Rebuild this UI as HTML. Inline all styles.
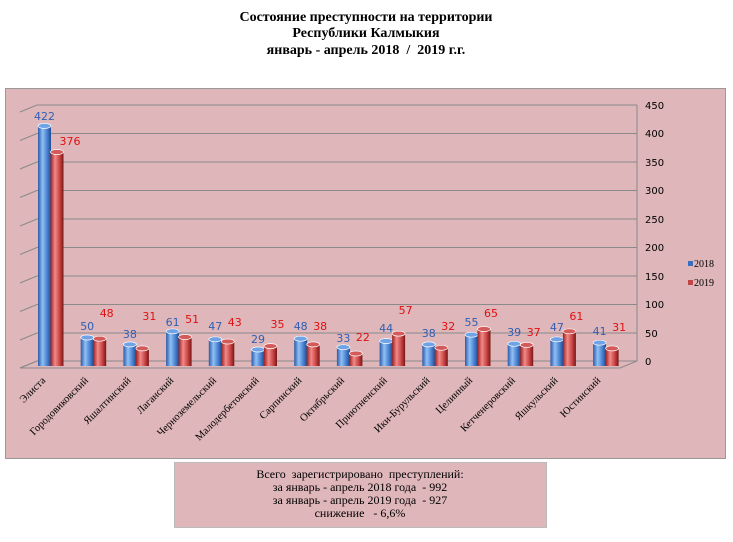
<!DOCTYPE html>
<html><head><meta charset="utf-8"><style>
body{margin:0;background:#fff;width:733px;height:537px;overflow:hidden}
text{white-space:pre}
</style></head><body>
<svg width="733" height="537" xmlns="http://www.w3.org/2000/svg" font-family="'Liberation Serif',serif">
<defs>
<linearGradient id="b" x1="0" x2="1"><stop offset="0" stop-color="#2a5aa8"/><stop offset=".35" stop-color="#8fc0f5"/><stop offset=".7" stop-color="#4a82d0"/><stop offset="1" stop-color="#1f4a90"/></linearGradient>
<linearGradient id="r" x1="0" x2="1"><stop offset="0" stop-color="#9a2020"/><stop offset=".35" stop-color="#f28a88"/><stop offset=".7" stop-color="#c84545"/><stop offset="1" stop-color="#7a1515"/></linearGradient>
</defs>
<g font-weight="bold" font-size="14" text-anchor="middle" fill="#000">
<text x="366" y="21">Состояние преступности на территории</text>
<text x="366" y="37">Республики Калмыкия</text>
<text x="366" y="54">январь - апрель 2018  /  2019 г.г.</text>
</g>
<rect x="5.5" y="88.5" width="720" height="370" fill="#dfb6b9" stroke="#999"/>
<g stroke="#8a8a8a" stroke-width="1" fill="none">
<path d="M37 105H637M37 133.5H637M37 162H637M37 190.5H637M37 219H637M37 247.5H637M37 276H637M37 304.5H637M37 333H637M37 361H637"/>
<path d="M637 105V361L620 368H20L37 361"/>
<path d="M20 112L37 105M20 140.5L37 133.5M20 169L37 162M20 197.5L37 190.5M20 226L37 219M20 254.5L37 247.5M20 283L37 276M20 311.5L37 304.5M20 340L37 333M20 368L37 361"/>
</g>
<g font-family="'DejaVu Sans',sans-serif" font-size="10" fill="#000">
<text x="645" y="109">450</text><text x="645" y="137">400</text><text x="645" y="166">350</text><text x="645" y="194">300</text><text x="645" y="223">250</text><text x="645" y="251">200</text><text x="645" y="280">150</text><text x="645" y="308">100</text><text x="645" y="337">50</text><text x="645" y="365">0</text>
</g>
<rect x="688" y="261" width="5" height="5" fill="#3a6fc0"/><text x="694" y="267" font-size="10">2018</text>
<rect x="688" y="280" width="5" height="5" fill="#c04545"/><text x="694" y="286" font-size="10">2019</text>

<g fill="url(#b)">
<rect x="38" y="125.9" width="13" height="240.1"/>
<rect x="80.7" y="337.5" width="13" height="28.5"/>
<rect x="123.4" y="344.4" width="13" height="21.6"/>
<rect x="166.1" y="331.3" width="13" height="34.7"/>
<rect x="208.8" y="339.3" width="13" height="26.7"/>
<rect x="251.5" y="349.5" width="13" height="16.5"/>
<rect x="294.2" y="338.7" width="13" height="27.3"/>
<rect x="336.9" y="347.2" width="13" height="18.8"/>
<rect x="379.6" y="341" width="13" height="25"/>
<rect x="422.3" y="344.4" width="13" height="21.6"/>
<rect x="465" y="334.7" width="13" height="31.3"/>
<rect x="507.7" y="343.8" width="13" height="22.2"/>
<rect x="550.4" y="339.3" width="13" height="26.7"/>
<rect x="593.1" y="342.7" width="13" height="23.3"/>
</g>
<g fill="#6fa3e6" stroke="#fff" stroke-width=".7">
<ellipse cx="44.5" cy="125.9" rx="6.5" ry="2.5"/>
<ellipse cx="87.2" cy="337.5" rx="6.5" ry="2.5"/>
<ellipse cx="129.9" cy="344.4" rx="6.5" ry="2.5"/>
<ellipse cx="172.6" cy="331.3" rx="6.5" ry="2.5"/>
<ellipse cx="215.3" cy="339.3" rx="6.5" ry="2.5"/>
<ellipse cx="258" cy="349.5" rx="6.5" ry="2.5"/>
<ellipse cx="300.7" cy="338.7" rx="6.5" ry="2.5"/>
<ellipse cx="343.4" cy="347.2" rx="6.5" ry="2.5"/>
<ellipse cx="386.1" cy="341" rx="6.5" ry="2.5"/>
<ellipse cx="428.8" cy="344.4" rx="6.5" ry="2.5"/>
<ellipse cx="471.5" cy="334.7" rx="6.5" ry="2.5"/>
<ellipse cx="514.2" cy="343.8" rx="6.5" ry="2.5"/>
<ellipse cx="556.9" cy="339.3" rx="6.5" ry="2.5"/>
<ellipse cx="599.6" cy="342.7" rx="6.5" ry="2.5"/>
</g>
<g fill="url(#r)">
<rect x="50.5" y="152" width="13" height="214"/>
<rect x="93.2" y="338.7" width="13" height="27.3"/>
<rect x="135.9" y="348.4" width="13" height="17.6"/>
<rect x="178.6" y="337" width="13" height="29"/>
<rect x="221.3" y="341.5" width="13" height="24.5"/>
<rect x="264" y="346.1" width="13" height="19.9"/>
<rect x="306.7" y="344.4" width="13" height="21.6"/>
<rect x="349.4" y="353.5" width="13" height="12.5"/>
<rect x="392.1" y="333.6" width="13" height="32.4"/>
<rect x="434.8" y="347.8" width="13" height="18.2"/>
<rect x="477.5" y="329" width="13" height="37"/>
<rect x="520.2" y="344.9" width="13" height="21.1"/>
<rect x="562.9" y="331.3" width="13" height="34.7"/>
<rect x="605.6" y="348.4" width="13" height="17.6"/>
</g>
<g fill="#d45a5a" stroke="#fff" stroke-width=".7">
<ellipse cx="57" cy="152" rx="6.5" ry="2.5"/>
<ellipse cx="99.7" cy="338.7" rx="6.5" ry="2.5"/>
<ellipse cx="142.4" cy="348.4" rx="6.5" ry="2.5"/>
<ellipse cx="185.1" cy="337" rx="6.5" ry="2.5"/>
<ellipse cx="227.8" cy="341.5" rx="6.5" ry="2.5"/>
<ellipse cx="270.5" cy="346.1" rx="6.5" ry="2.5"/>
<ellipse cx="313.2" cy="344.4" rx="6.5" ry="2.5"/>
<ellipse cx="355.9" cy="353.5" rx="6.5" ry="2.5"/>
<ellipse cx="398.6" cy="333.6" rx="6.5" ry="2.5"/>
<ellipse cx="441.3" cy="347.8" rx="6.5" ry="2.5"/>
<ellipse cx="484" cy="329" rx="6.5" ry="2.5"/>
<ellipse cx="526.7" cy="344.9" rx="6.5" ry="2.5"/>
<ellipse cx="569.4" cy="331.3" rx="6.5" ry="2.5"/>
<ellipse cx="612.1" cy="348.4" rx="6.5" ry="2.5"/>
</g>

<g font-family="'DejaVu Sans',sans-serif" font-size="11" text-anchor="middle" fill="#2f5fb5">
<text x="44.5" y="120">422</text>
<text x="87.2" y="330">50</text>
<text x="129.9" y="338">38</text>
<text x="172.6" y="326">61</text>
<text x="215.3" y="330">47</text>
<text x="258" y="343">29</text>
<text x="300.7" y="330">48</text>
<text x="343.4" y="342">33</text>
<text x="386.1" y="332">44</text>
<text x="428.8" y="337">38</text>
<text x="471.5" y="326">55</text>
<text x="514.2" y="336">39</text>
<text x="556.9" y="331">47</text>
<text x="599.6" y="335">41</text>
</g>
<g font-family="'DejaVu Sans',sans-serif" font-size="11" text-anchor="middle" fill="#e01010">
<text x="70" y="145">376</text>
<text x="106.7" y="317">48</text>
<text x="149.4" y="320">31</text>
<text x="192.1" y="323">51</text>
<text x="234.8" y="326">43</text>
<text x="277.5" y="328">35</text>
<text x="320.2" y="330">38</text>
<text x="362.9" y="341">22</text>
<text x="405.6" y="314">57</text>
<text x="448.3" y="330">32</text>
<text x="491" y="317">65</text>
<text x="533.7" y="336">37</text>
<text x="576.4" y="320">61</text>
<text x="619.1" y="331">31</text>
</g>
<g font-size="10.5" text-anchor="end">
<text transform="translate(46,381) rotate(-45)">Элиста</text>
<text transform="translate(88.7,381) rotate(-45)">Городовиковский</text>
<text transform="translate(131.4,381) rotate(-45)">Яшалтинский</text>
<text transform="translate(174.1,381) rotate(-45)">Лаганский</text>
<text transform="translate(216.8,381) rotate(-45)">Черноземельский</text>
<text transform="translate(259.5,381) rotate(-45)">Малодербетовский</text>
<text transform="translate(302.2,381) rotate(-45)">Сарпинский</text>
<text transform="translate(344.9,381) rotate(-45)">Октябрьский</text>
<text transform="translate(387.6,381) rotate(-45)">Приютненский</text>
<text transform="translate(430.3,381) rotate(-45)">Ики-Бурульский</text>
<text transform="translate(473,381) rotate(-45)">Целинный</text>
<text transform="translate(515.7,381) rotate(-45)">Кетченеровский</text>
<text transform="translate(558.4,381) rotate(-45)">Яшкульский</text>
<text transform="translate(601.1,381) rotate(-45)">Юстинский</text>
</g>
<rect x="174.5" y="462.5" width="372" height="65" fill="#dfb6b9" stroke="#bbb"/>
<g font-size="12" text-anchor="middle">
<text x="360" y="478">Всего  зарегистрировано  преступлений:</text>
<text x="360" y="491">за январь - апрель 2018 года  - 992</text>
<text x="360" y="504">за январь - апрель 2019 года  - 927</text>
<text x="360" y="517">снижение   - 6,6%</text>
</g>
</svg>
</body></html>
